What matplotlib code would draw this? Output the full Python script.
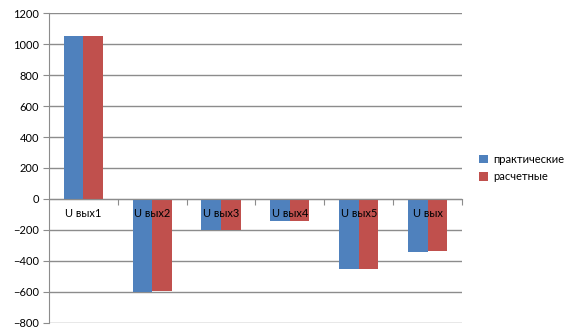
import numpy as np
import matplotlib.pyplot as plt

plt.rcParams['font.family'] = ['Lato', 'DejaVu Sans']

categories = ['U вых1', 'U вых2', 'U вых3', 'U вых4', 'U вых5', 'U вых']
practical = [1055, -600, -200, -145, -450, -342]
calculated = [1055, -592, -200, -145, -450, -337]
series_names = ['практические', 'расчетные']

fig = plt.figure(figsize=(5.76, 3.36), dpi=100)
ax = fig.add_axes([0.085, 0.039, 0.717, 0.922])

x = np.arange(len(categories))
w = 0.285
ax.bar(x - w / 2, practical, w, color='#4f81bd', label=series_names[0], zorder=2)
ax.bar(x + w / 2, calculated, w, color='#c0504d', label=series_names[1], zorder=2)

ax.set_xlim(-0.5, len(categories) - 0.5)
ax.set_ylim(-800, 1200)
ax.set_yticks(range(-800, 1201, 200))
ax.grid(axis='y', color='#8c8c8c', linewidth=1, zorder=0)

for s in ['top', 'right']:
    ax.spines[s].set_visible(False)
ax.spines['left'].set_color('#8c8c8c')
ax.spines['bottom'].set_position(('data', 0))
ax.spines['bottom'].set_color('#8c8c8c')
ax.spines['bottom'].set_zorder(3)

# засечки между категориями
ax.set_xticks(np.arange(len(categories)) + 0.5)
ax.set_xticklabels([])
ax.tick_params(axis='x', length=4, color='#8c8c8c', direction='out')
ax.tick_params(axis='y', length=4, color='#8c8c8c', labelsize=8, pad=3)

for i, c in enumerate(categories):
    ax.text(i, -95, c, ha='center', va='center', fontsize=8, zorder=4)

fig.legend(loc='center left', bbox_to_anchor=(0.815, 0.5), frameon=False,
           fontsize=8, handlelength=0.8, handleheight=0.8, handletextpad=0.4,
           labelspacing=0.6)

plt.savefig('out.png')
